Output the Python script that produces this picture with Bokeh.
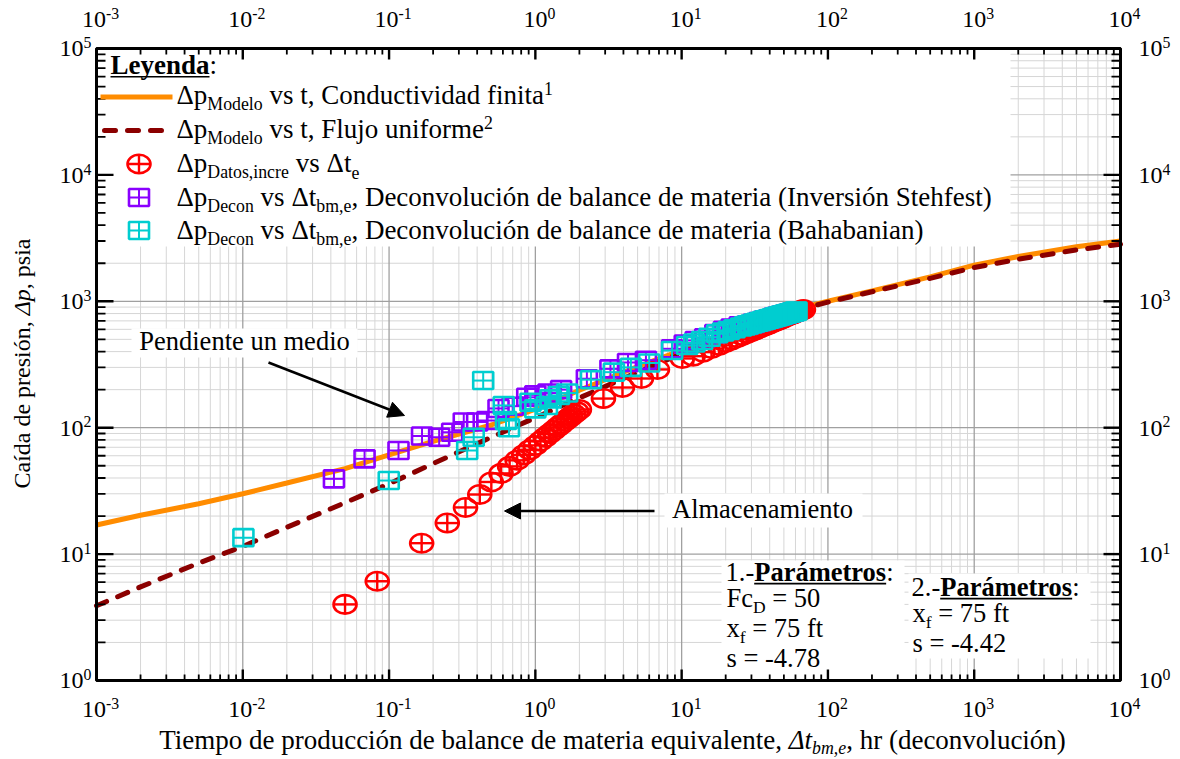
import glob
import math

from bokeh.plotting import figure
from bokeh.models import Range1d, Label, Arrow, NormalHead, ColumnDataSource, LogScale
from bokeh.embed import file_html
from bokeh.resources import INLINE

# ---------------- data ----------------
# model curves (time in hr, pressure drop in psia)
model_t = [0.001, 0.002, 0.005, 0.01, 0.02, 0.05, 0.1, 0.2, 0.5, 1, 2, 5, 10, 20, 50,
           100, 200, 500, 1000, 2000, 5000, 10000]
fc_dp = [17.0, 20.3, 25.0, 30.0, 36.5, 47.5, 61.0, 78.0, 105, 140, 198, 305, 410, 560, 820,
         1000, 1210, 1560, 1930, 2260, 2700, 3000]          # conductividad finita
uf_dp = [3.9, 5.5, 8.5, 11.5, 16.3, 25.5, 36.0, 52.0, 84, 120, 172, 275, 385, 540, 800,
         985, 1190, 1520, 1850, 2150, 2550, 2830]            # flujo uniforme

# incremental field data
datos_t = [0.05, 0.083, 0.167, 0.25, 0.333, 0.417, 0.5, 0.583, 0.667, 0.75, 0.833, 0.917,
           1.0, 1.083, 1.167, 1.25, 1.333, 1.417, 1.5, 1.583, 1.667, 1.75, 1.833, 1.917,
           2.0, 2.92, 3.94, 5.31, 6.83, 10.1, 12, 14, 16, 18, 20, 22, 24, 26, 28, 30, 32,
           34, 36, 38, 40, 42, 44, 46, 48, 50, 52, 54, 56, 58, 60, 62, 64, 66, 68]
datos_dp = [4.0, 6.1, 12.2, 17.6, 23.4, 29.6, 37.2, 43.5, 49.4, 55.2, 60.9, 66.8,
            72.4, 78.1, 83.8, 89.5, 95.1, 100.7, 106.3, 111.9, 117.5, 123.0, 128.5, 134.1,
            139.5, 170, 208, 245, 289, 353, 368, 396, 423, 448, 472, 495, 516, 537, 557,
            576, 595, 612, 630, 647, 663, 679, 695, 710, 725, 740, 754, 768, 782, 796,
            809, 822, 835, 848, 860]

# material-balance deconvolution, Stehfest inversion
stehfest_t = [0.042, 0.068, 0.116, 0.168, 0.22, 0.27, 0.324, 0.40, 0.47, 0.56, 0.70, 0.88,
              1.0, 1.23, 1.5, 2.25, 3.26, 4.3, 5.7, 8.6, 10.5, 12.5, 14.5, 17, 19.5, 22,
              25, 28, 31, 34, 37, 40, 43, 46, 49, 52, 55, 58]
stehfest_dp = [39.4, 56.7, 66, 86, 84, 92, 111, 111, 114, 142, 148, 174,
               182, 188, 200, 244, 292, 328, 342, 421, 458, 490, 515, 555, 590, 615,
               640, 647, 669, 690, 710, 728, 746, 763, 779, 794, 809, 824]

# material-balance deconvolution, Bahabanian
bahab_t = [0.0101, 0.0995, 0.342, 0.379, 0.44, 0.608, 0.63, 0.66, 0.926, 1.0, 1.2, 1.27,
           1.45, 1.65, 2.4, 3.44, 4.5, 6.0, 8.6, 10.9, 12.2, 13.8, 15.5, 17.5, 19.2, 21,
           23, 25.5, 27, 28.5, 30, 31.5, 33, 34.5, 36, 37.5, 39, 40.5, 42, 43.5, 45, 46.5,
           48, 49.5, 51, 52.5, 54, 55.5, 57, 58.5, 60, 61]
bahab_dp = [13.5, 38.2, 66, 84, 236, 150, 114, 100, 159, 141, 150, 169,
            180, 188, 240, 275, 300, 325, 408, 447, 468, 490, 520, 553, 572, 588,
            606, 627, 639, 651, 662, 673, 683, 693, 703, 713, 722, 731, 740, 749, 757, 766,
            774, 782, 790, 797, 805, 812, 819, 826, 833, 838]

x_exps = [-3, -2, -1, 0, 1, 2, 3, 4]
y_exps = [0, 1, 2, 3, 4, 5]

# ---------------- colours ----------------
ORANGE = "#FF8C00"
MAROON = "#8B0000"
RED = "#FF0000"
PURPLE = "#8A00FF"
CYAN = "#00CDD0"
GRID_MAJOR = "#a0a0a0"
GRID_MINOR = "#d6d6d6"

# ---------------- page / plotting-area geometry (px) ----------------
W, H = 1180, 759
FL, FT, FW, FH = 96, 48, 1024, 632
XMIN, XMAX, YMIN, YMAX = x_exps[0], x_exps[-1], y_exps[0], y_exps[-1]


def X(px):
    return 10 ** (XMIN + (XMAX - XMIN) * (px - FL) / FW)


def Y(py):
    return 10 ** (YMIN + (YMAX - YMIN) * (FT + FH - py) / FH)


def xpx(e):
    return FL + (e - XMIN) / (XMAX - XMIN) * FW


def ypx(e):
    return FT + FH - (e - YMIN) / (YMAX - YMIN) * FH


# ---------------- text measuring ----------------
SERIF = "Liberation Serif"
FONT_FILES = {"normal": "LiberationSerif-Regular.ttf", "bold": "LiberationSerif-Bold.ttf",
              "italic": "LiberationSerif-Italic.ttf", "bold italic": "LiberationSerif-BoldItalic.ttf"}
_fonts = {}


def _font(style):
    if style not in _fonts:
        f = None
        try:
            from PIL import ImageFont
            hits = []
            for root in ("/usr/share/fonts", "/usr/local/share/fonts"):
                hits += glob.glob(root + "/**/" + FONT_FILES[style], recursive=True)
            if hits:
                f = ImageFont.truetype(hits[0], 100)
        except Exception:
            f = None
        _fonts[style] = f
    return _fonts[style]


def text_w(s, size, style="normal"):
    f = _font(style)
    if f is None:
        return 0.47 * size * len(s)
    return f.getlength(s) * size / 100.0


KINDS = {
    "n": (1.0, 0.0, "normal", False),
    "b": (1.0, 0.0, "bold", False),
    "i": (1.0, 0.0, "italic", False),
    "bu": (1.0, 0.0, "bold", True),
    "sub": (0.66, 0.22, "normal", False),
    "isub": (0.66, 0.2, "italic", False),
    "sup": (0.66, -0.36, "normal", False),
}
BASELINE_FIX = 0.32   # Label 'alphabetic' anchor sits this many em below the baseline


def rich(p, px0, base, parts, size, align="left", angle=0.0, color="black", font=SERIF):
    """Lay out a run of text segments (with sub/superscripts) starting at px0 along the
    writing direction; base is the baseline position across it (all in px)."""
    dx, dy = math.cos(angle), -math.sin(angle)      # advance direction on screen
    nx, ny = math.sin(angle), math.cos(angle)       # 'down' direction of the text
    widths = []
    for t, k in parts:
        sc, _, st, _ = KINDS[k]
        widths.append(text_w(t, size * sc, st))
    total = sum(widths)
    off = {"left": 0.0, "center": -total / 2, "right": -total}[align]
    if angle == 0.0:
        sx, sy = px0 + off, base
    else:
        sx, sy = base, px0 - off
    pos = 0.0
    for (t, k), w in zip(parts, widths):
        sc, shift, st, under = KINDS[k]
        s = size * sc
        stripped = t.lstrip(" ")
        lead = text_w(" " * (len(t) - len(stripped)), s, st)
        bx = sx + dx * (pos + lead) + nx * shift * size
        by = sy + dy * (pos + lead) + ny * shift * size
        ax = bx - nx * BASELINE_FIX * s
        ay = by - ny * BASELINE_FIX * s
        p.add_layout(Label(x=X(ax), y=Y(ay), text=stripped, text_font=font,
                           text_font_size=f"{s:.1f}px", text_font_style=st,
                           text_color=color, text_align="left", text_baseline="alphabetic",
                           angle=angle))
        if under:
            ux0 = bx + nx * 0.12 * size
            uy0 = by + ny * 0.12 * size
            ux1 = ux0 + dx * (w - lead)
            uy1 = uy0 + dy * (w - lead)
            p.line([X(ux0), X(ux1)], [Y(uy0), Y(uy1)], line_width=1.7, line_color=color)
        pos += w


# ---------------- figure (the whole page is the drawing area) ----------------
p = figure(width=W, height=H, x_axis_type="log", y_axis_type="log",
           x_scale=LogScale(), y_scale=LogScale(),
           x_range=Range1d(X(0), X(W)), y_range=Range1d(Y(H), Y(0)),
           x_axis_location=None, y_axis_location=None,
           output_backend="svg", toolbar_location=None,
           min_border=0, min_border_left=0, min_border_right=0,
           min_border_top=0, min_border_bottom=0)
p.background_fill_color = "white"
p.border_fill_color = "white"
p.outline_line_color = None
p.grid.visible = False

x_major = [10.0 ** e for e in x_exps]
x_minor = [k * 10.0 ** e for e in x_exps[:-1] for k in range(2, 10)]
y_major = [10.0 ** e for e in y_exps]
y_minor = [k * 10.0 ** e for e in y_exps[:-1] for k in range(2, 10)]
x_lo, x_hi = x_major[0], x_major[-1]
y_lo, y_hi = y_major[0], y_major[-1]


def vlines(xs, y0, y1, color, width):
    n = len(xs)
    p.segment(x0=xs, y0=[y0] * n, x1=xs, y1=[y1] * n, line_color=color, line_width=width)


def hlines(ys, x0, x1, color, width):
    n = len(ys)
    p.segment(x0=[x0] * n, y0=ys, x1=[x1] * n, y1=ys, line_color=color, line_width=width)


# grid
vlines(x_minor, y_lo, y_hi, GRID_MINOR, 1)
hlines(y_minor, x_lo, x_hi, GRID_MINOR, 1)
vlines(x_major, y_lo, y_hi, GRID_MAJOR, 1.3)
hlines(y_major, x_lo, x_hi, GRID_MAJOR, 1.3)


def white_box(l, r, t, b):
    p.quad(left=[X(l)], right=[X(r)], top=[Y(t)], bottom=[Y(b)],
           fill_color="white", line_color=None)


white_box(FL, 1010, FT, 246)        # legend area
white_box(131, 357, 328, 357)       # "Pendiente un medio"
white_box(664, 862, 493, 527)       # "Almacenamiento"
white_box(721, 904, 560, FT + FH)   # parameters 1
white_box(908, 1090, 573, 658)      # parameters 2

# ---------------- series ----------------
p.line(model_t, fc_dp, line_color=ORANGE, line_width=5)
p.line(model_t, uf_dp, line_color=MAROON, line_width=5, line_dash="11 12", line_cap="round")

CW, CH = 23, 18.5   # plus-circle size (px)
SW, SH = 20, 17     # plus-square size (px)


def circle_cross(src, color):
    p.ellipse("t", "dp", width=CW, height=CH, width_units="screen", height_units="screen",
              fill_color=None, line_color=color, line_width=2.6, source=src)
    p.scatter("t", "dp", marker="dash", size=CW, line_color=color, line_width=2.4, source=src)
    p.scatter("t", "dp", marker="dash", size=CH, angle=math.pi / 2, line_color=color,
              line_width=2.4, source=src)


def square_cross(src, color):
    p.rect("t", "dp", width=SW, height=SH, width_units="screen", height_units="screen",
           fill_color=None, line_color=color, line_width=2.6, source=src)
    p.scatter("t", "dp", marker="dash", size=SW, line_color=color, line_width=2.0, source=src)
    p.scatter("t", "dp", marker="dash", size=SH, angle=math.pi / 2, line_color=color,
              line_width=2.0, source=src)


circle_cross(ColumnDataSource(dict(t=datos_t, dp=datos_dp)), RED)
square_cross(ColumnDataSource(dict(t=stehfest_t, dp=stehfest_dp)), PURPLE)
square_cross(ColumnDataSource(dict(t=bahab_t, dp=bahab_dp)), CYAN)

# ---------------- ticks (pointing inward on all four sides) and frame ----------------
XT_MAJ, XT_MIN, YT_MAJ, YT_MIN = 11, 6, 17, 9
vlines(x_major, y_lo, Y(FT + FH - XT_MAJ), "black", 2.4)
vlines(x_minor, y_lo, Y(FT + FH - XT_MIN), "black", 1.8)
vlines(x_major, y_hi, Y(FT + XT_MAJ), "black", 2.4)
vlines(x_minor, y_hi, Y(FT + XT_MIN), "black", 1.8)
hlines(y_major, x_lo, X(FL + YT_MAJ), "black", 2.4)
hlines(y_minor, x_lo, X(FL + YT_MIN), "black", 1.8)
hlines(y_major, x_hi, X(FL + FW - YT_MAJ), "black", 2.4)
hlines(y_minor, x_hi, X(FL + FW - YT_MIN), "black", 1.8)
p.quad(left=[x_lo], right=[x_hi], bottom=[y_lo], top=[y_hi], fill_color=None,
       line_color="black", line_width=3)

# ---------------- legend ----------------
LEG = 27
rich(p, 110, 73, [("Leyenda", "bu"), (":", "n")], LEG)
p.line([X(100), X(172)], [Y(96.5)] * 2, line_color=ORANGE, line_width=5)
p.line([X(104), X(172)], [Y(130)] * 2, line_color=MAROON, line_width=5, line_dash="11 12",
       line_cap="round")
circle_cross(ColumnDataSource(dict(t=[X(138.5)], dp=[Y(163.5)])), RED)
square_cross(ColumnDataSource(dict(t=[X(138.5)], dp=[Y(197)])), PURPLE)
square_cross(ColumnDataSource(dict(t=[X(138.5)], dp=[Y(230)])), CYAN)

LX = 176
rich(p, LX, 103, [("Δp", "n"), ("Modelo", "sub"), (" vs t, Conductividad finita", "n"), ("1", "sup")], LEG)
rich(p, LX, 137, [("Δp", "n"), ("Modelo", "sub"), (" vs t, Flujo uniforme", "n"), ("2", "sup")], LEG)
rich(p, LX, 171.5, [("Δp", "n"), ("Datos,incre", "sub"), (" vs Δt", "n"), ("e", "sub")], LEG)
rich(p, LX, 205, [("Δp", "n"), ("Decon", "sub"), (" vs Δt", "n"), ("bm,e", "sub"),
                  (", Deconvolución de balance de materia (Inversión Stehfest)", "n")], LEG)
rich(p, LX, 238.5, [("Δp", "n"), ("Decon", "sub"), (" vs Δt", "n"), ("bm,e", "sub"),
                    (", Deconvolución de balance de materia (Bahabanian)", "n")], LEG)

# ---------------- annotations ----------------
rich(p, 244, 348.5, [("Pendiente un medio", "n")], 26.5, align="center")
p.add_layout(Arrow(x_start=X(268), y_start=Y(362), x_end=X(404), y_end=Y(415),
                   line_width=2.5, line_color="black",
                   end=NormalHead(size=16, fill_color="black", line_color="black")))
rich(p, 762, 516.5, [("Almacenamiento", "n")], 26.5, align="center")
p.add_layout(Arrow(x_start=X(654), y_start=Y(510.5), x_end=X(504), y_end=Y(510.5),
                   line_width=2.5, line_color="black",
                   end=NormalHead(size=16, fill_color="black", line_color="black")))

rich(p, 725, 580, [("1.-", "n"), ("Parámetros", "bu"), (":", "n")], 26.5)
rich(p, 726, 606, [("Fc", "n"), ("D", "sub"), (" = 50", "n")], 26.5)
rich(p, 726, 636, [("x", "n"), ("f", "sub"), (" = 75 ft", "n")], 26.5)
rich(p, 726, 666, [("s = -4.78", "n")], 26.5)
rich(p, 911, 595, [("2.-", "n"), ("Parámetros", "bu"), (":", "n")], 26.5)
rich(p, 912, 621, [("x", "n"), ("f", "sub"), (" = 75 ft", "n")], 26.5)
rich(p, 912, 651, [("s = -4.42", "n")], 26.5)

# ---------------- tick labels ----------------
for e in x_exps:
    cx = xpx(e) + 4
    rich(p, cx, 717, [("10", "n"), (str(e), "sup")], 24, align="center")
    rich(p, cx, 27, [("10", "n"), (str(e), "sup")], 24, align="center")
for e in y_exps:
    cy = ypx(e)
    rich(p, 91, cy + 8, [("10", "n"), (str(e), "sup")], 24, align="right")
    rich(p, 1138, cy + 8, [("10", "n"), (str(e), "sup")], 24, align="left")

# ---------------- axis titles ----------------
rich(p, 612, 748, [("Tiempo de producción de balance de materia equivalente, ", "n"),
                   ("Δt", "i"), ("bm,e", "isub"), (", hr (deconvolución)", "n")], 27,
     align="center")
rich(p, 363, 29, [("Caída de presión, ", "n"), ("Δp", "i"), (", psia", "n")], 24,
     align="center", angle=math.pi / 2)

open("out.html", "w").write(file_html(p, INLINE))
